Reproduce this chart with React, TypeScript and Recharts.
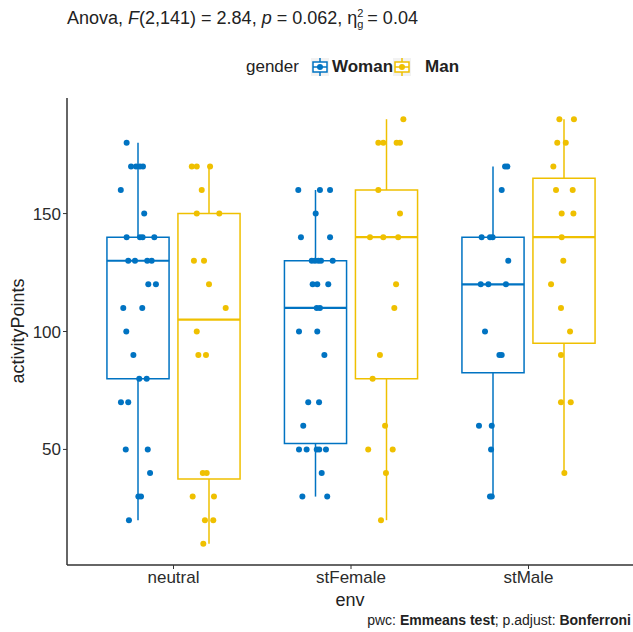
import React from 'react';
import {
    ComposedChart,
    Scatter,
    XAxis,
    YAxis,
    ReferenceArea,
    ReferenceLine,
} from 'recharts';

const ENV = ['neutral', 'stFemale', 'stMale'];
const WOMAN_COLOR = '#0073C2';
const MAN_COLOR = '#EFC000';

// box stats per env (neutral, stFemale, stMale)
const WOMAN_MIN = [20, 30, 30];
const WOMAN_Q1 = [80, 52.5, 82.5];
const WOMAN_MED = [130, 110, 120];
const WOMAN_Q3 = [140, 130, 140];
const WOMAN_MAX = [180, 160, 170];

const MAN_MIN = [10, 20, 40];
const MAN_Q1 = [37.5, 80, 95];
const MAN_MED = [105, 140, 140];
const MAN_Q3 = [150, 160, 165];
const MAN_MAX = [170, 190, 190];

// jittered points [x position, activityPoints]
const WOMAN_POINTS = [
    [0.736, 180], [0.761, 170], [0.789, 170], [0.811, 170], [0.828, 170], [0.703, 160], [0.835, 150],
    [0.736, 140], [0.811, 140], [0.826, 140], [0.892, 140], [0.745, 130], [0.783, 130], [0.852, 130],
    [0.877, 130], [0.858, 120], [0.901, 120], [0.717, 110], [0.824, 110], [0.734, 100], [0.774, 90],
    [0.807, 80], [0.849, 80], [0.704, 70], [0.745, 70], [0.731, 50], [0.855, 50], [0.868, 40],
    [0.802, 30], [0.817, 30], [0.749, 20],
    [1.703, 160], [1.825, 160], [1.882, 160], [1.801, 150], [1.718, 140], [1.882, 140], [1.779, 130],
    [1.797, 130], [1.816, 130], [1.831, 130], [1.897, 130], [1.784, 120], [1.81, 120], [1.872, 120],
    [1.807, 110], [1.825, 110], [1.707, 100], [1.81, 100], [1.85, 90], [1.759, 70], [1.82, 70],
    [1.731, 60], [1.707, 50], [1.75, 50], [1.807, 50], [1.821, 50], [1.859, 50], [1.835, 40],
    [1.726, 30], [1.866, 30],
    [2.868, 170], [2.881, 170], [2.849, 160], [2.736, 140], [2.783, 140], [2.798, 140], [2.886, 130],
    [2.731, 120], [2.774, 120], [2.873, 120], [2.755, 100], [2.836, 90], [2.849, 90], [2.721, 60],
    [2.793, 60], [2.789, 50], [2.783, 30], [2.793, 30],
];

const MAN_POINTS = [
    [1.103, 170], [1.131, 170], [1.206, 170], [1.159, 160], [1.131, 150], [1.258, 150], [1.115, 130],
    [1.172, 130], [1.2, 120], [1.294, 110], [1.131, 100], [1.14, 90], [1.183, 90], [1.165, 40],
    [1.187, 40], [1.108, 30], [1.228, 30], [1.177, 20], [1.224, 20], [1.168, 10],
    [2.295, 190], [2.154, 180], [2.182, 180], [2.257, 180], [2.276, 180], [2.154, 160], [2.276, 150],
    [2.107, 140], [2.182, 140], [2.266, 140], [2.254, 120], [2.244, 110], [2.163, 90], [2.122, 80],
    [2.192, 60], [2.097, 50], [2.235, 50], [2.197, 40], [2.169, 20],
    [3.174, 190], [3.256, 190], [3.162, 180], [3.21, 180], [3.14, 170], [3.155, 160], [3.249, 160],
    [3.187, 150], [3.253, 150], [3.187, 140], [3.196, 130], [3.127, 120], [3.183, 110], [3.234, 100],
    [3.183, 90], [3.183, 70], [3.238, 70], [3.202, 40],
];

const Y_TICKS = [50, 100, 150];

const DODGE = 0.2;
const HALF_BOX = 0.175;
const FONT = '"Liberation Sans", Arial, sans-serif';

const toXY = (pts: number[][]) => pts.map(([x, y]) => ({ x, y }));

const dot = (color: string) => (props: any) => (
    <circle cx={props.cx} cy={props.cy} r={3} fill={color} />
);

// builds reference elements for one box + whiskers
const boxElements = (
    key: string,
    center: number,
    min: number,
    q1: number,
    med: number,
    q3: number,
    max: number,
    color: string
) => [
    <ReferenceLine
        key={key + 'wu'}
        segment={[{ x: center, y: q3 }, { x: center, y: max }]}
        stroke={color}
        strokeWidth={1.5}
        ifOverflow="visible"
    />,
    <ReferenceLine
        key={key + 'wl'}
        segment={[{ x: center, y: min }, { x: center, y: q1 }]}
        stroke={color}
        strokeWidth={1.5}
        ifOverflow="visible"
    />,
    <ReferenceArea
        key={key + 'box'}
        x1={center - HALF_BOX}
        x2={center + HALF_BOX}
        y1={q1}
        y2={q3}
        stroke={color}
        strokeWidth={1.5}
        fill="none"
        fillOpacity={0}
        ifOverflow="visible"
    />,
    <ReferenceLine
        key={key + 'med'}
        segment={[{ x: center - HALF_BOX, y: med }, { x: center + HALF_BOX, y: med }]}
        stroke={color}
        strokeWidth={2.2}
        ifOverflow="visible"
    />,
];

const LegendKey = ({ color }: { color: string }) => (
    <svg width={18} height={18} style={{ verticalAlign: 'middle' }}>
        <rect x={0} y={0} width={18} height={18} fill="#f2f2f2" />
        <line x1={9} y1={0} x2={9} y2={4} stroke={color} strokeWidth={1.5} />
        <line x1={9} y1={14} x2={9} y2={18} stroke={color} strokeWidth={1.5} />
        <rect x={2} y={4} width={14} height={10} fill="white" stroke={color} strokeWidth={1.5} />
        <line x1={2} y1={9} x2={16} y2={9} stroke={color} strokeWidth={1.5} />
        <circle cx={9} cy={9} r={3} fill={color} />
    </svg>
);

export default function App() {
    const womanData = toXY(WOMAN_POINTS);
    const manData = toXY(MAN_POINTS);

    return (
        <div
            style={{
                position: 'absolute',
                left: 0,
                top: 0,
                width: 633,
                height: 632,
                overflow: 'hidden',
                background: 'white',
                fontFamily: FONT,
                color: '#222',
            }}
        >
            {/* title */}
            <div style={{ position: 'absolute', left: 67, top: 8, fontSize: 18, whiteSpace: 'nowrap' }}>
                Anova, <i>F</i>(2,141) = 2.84, <i>p</i> = 0.062, η
                <span
                    style={{
                        display: 'inline-flex',
                        flexDirection: 'column',
                        fontSize: 11,
                        lineHeight: '11px',
                        verticalAlign: 'middle',
                        marginRight: 4,
                    }}
                >
                    <span>2</span>
                    <span>g</span>
                </span>
                = 0.04
            </div>

            {/* legend */}
            <div
                style={{
                    position: 'absolute',
                    left: 246,
                    top: 57,
                    fontSize: 17,
                    whiteSpace: 'nowrap',
                    display: 'flex',
                    alignItems: 'center',
                }}
            >
                <span style={{ marginRight: 12 }}>gender</span>
                <LegendKey color={WOMAN_COLOR} />
                <span style={{ fontWeight: 'bold', marginLeft: 3 }}>Woman</span>
                <LegendKey color={MAN_COLOR} />
                <span style={{ fontWeight: 'bold', marginLeft: 14 }}>Man</span>
            </div>

            {/* y axis title */}
            <div
                style={{
                    position: 'absolute',
                    left: 18,
                    top: 331,
                    fontSize: 18,
                    whiteSpace: 'nowrap',
                    transform: 'translate(-50%, -50%) rotate(-90deg)',
                }}
            >
                activityPoints
            </div>

            {/* x axis title */}
            <div
                style={{
                    position: 'absolute',
                    left: 350,
                    top: 600,
                    fontSize: 18,
                    transform: 'translate(-50%, -50%)',
                }}
            >
                env
            </div>

            {/* caption */}
            <div
                style={{
                    position: 'absolute',
                    right: 2,
                    top: 612,
                    fontSize: 14,
                    whiteSpace: 'nowrap',
                }}
            >
                pwc: <b>Emmeans test</b>; p.adjust: <b>Bonferroni</b>
            </div>

            <div style={{ position: 'absolute', left: 0, top: 0 }}>
                <ComposedChart
                    width={640}
                    height={632}
                    margin={{ top: 98, right: 5, bottom: 0, left: 0 }}
                >
                    <XAxis
                        type="number"
                        dataKey="x"
                        domain={[0.4, 3.6]}
                        ticks={[1, 2, 3]}
                        tickFormatter={(v: number) => ENV[v - 1]}
                        height={67}
                        tickSize={4}
                        tickMargin={2}
                        tick={{ fill: '#2b2b2b', fontSize: 17, fontFamily: FONT }}
                        axisLine={{ stroke: '#333', strokeWidth: 1.5 }}
                        tickLine={{ stroke: '#333' }}
                        allowDataOverflow
                    />
                    <YAxis
                        type="number"
                        dataKey="y"
                        domain={[1, 199]}
                        ticks={Y_TICKS}
                        width={67}
                        tickSize={4}
                        tickMargin={2}
                        tick={{ fill: '#2b2b2b', fontSize: 17, fontFamily: FONT }}
                        axisLine={{ stroke: '#333', strokeWidth: 1.5 }}
                        tickLine={{ stroke: '#333' }}
                        allowDataOverflow
                    />
                    {ENV.flatMap((env, i) => [
                        ...boxElements(
                            env + 'w',
                            i + 1 - DODGE,
                            WOMAN_MIN[i],
                            WOMAN_Q1[i],
                            WOMAN_MED[i],
                            WOMAN_Q3[i],
                            WOMAN_MAX[i],
                            WOMAN_COLOR
                        ),
                        ...boxElements(
                            env + 'm',
                            i + 1 + DODGE,
                            MAN_MIN[i],
                            MAN_Q1[i],
                            MAN_MED[i],
                            MAN_Q3[i],
                            MAN_MAX[i],
                            MAN_COLOR
                        ),
                    ])}
                    <Scatter
                        data={womanData}
                        shape={dot(WOMAN_COLOR)}
                        isAnimationActive={false}
                        name="Woman"
                    />
                    <Scatter
                        data={manData}
                        shape={dot(MAN_COLOR)}
                        isAnimationActive={false}
                        name="Man"
                    />
                </ComposedChart>
            </div>
        </div>
    );
}
